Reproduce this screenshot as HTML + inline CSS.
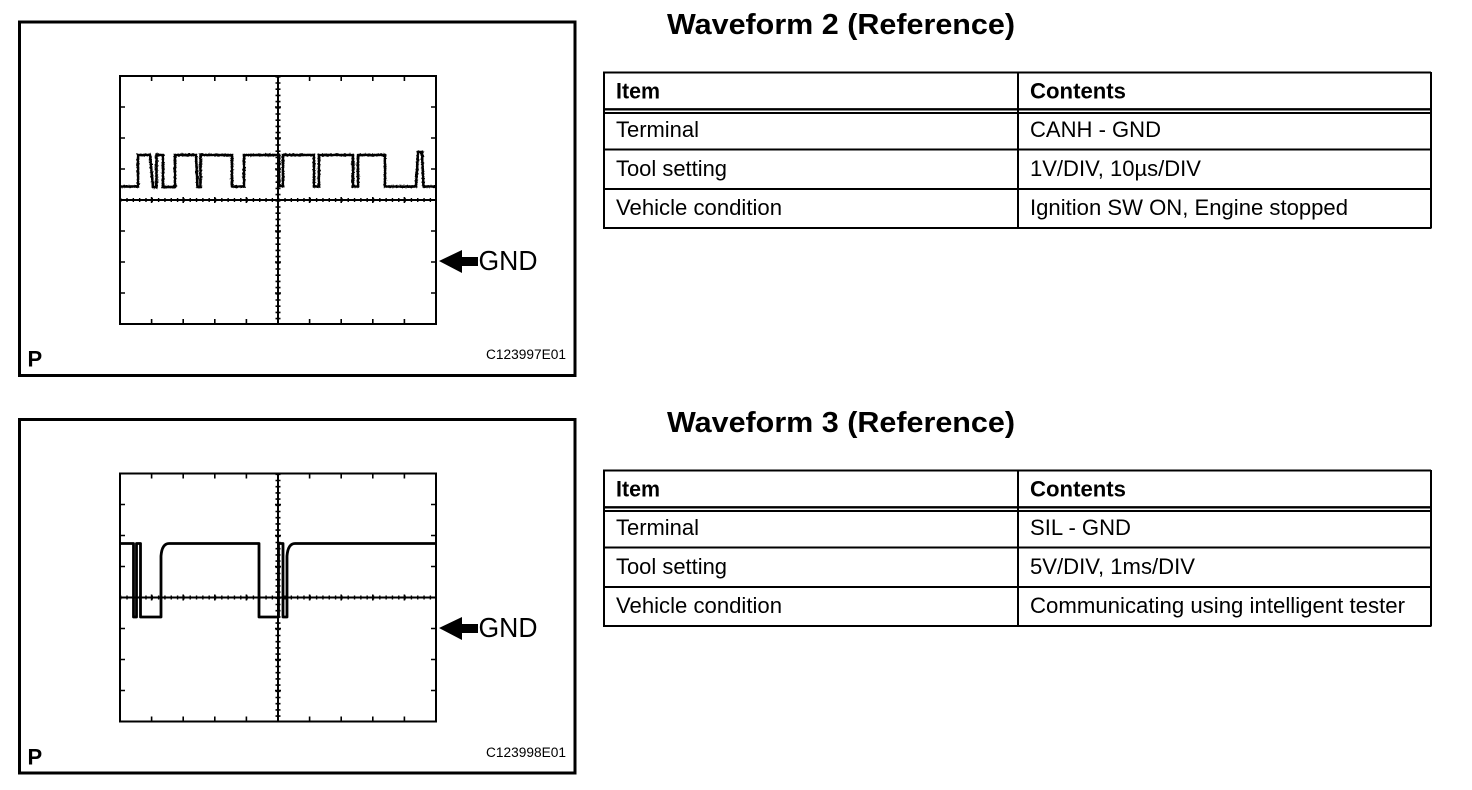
<!DOCTYPE html>
<html>
<head>
<meta charset="utf-8">
<style>
html,body{margin:0;padding:0;background:#fff;width:1472px;height:790px;overflow:hidden}
svg{display:block;position:absolute;left:0;top:0}
text{font-family:"Liberation Sans",Arial,sans-serif;fill:#000}
.t{font-size:22px}
.b{font-size:22px;font-weight:bold}
.h{font-size:29px;font-weight:bold}
.g{font-size:28px}
.c{font-size:13.5px}
.p{font-size:22px;font-weight:bold}
</style>
</head>
<body>
<svg width="1472" height="790" viewBox="0 0 1472 790" xmlns="http://www.w3.org/2000/svg">
<defs>
<filter id="noise" x="-2%" y="-20%" width="104%" height="140%">
<feTurbulence type="fractalNoise" baseFrequency="0.55" numOctaves="2" seed="4"/>
<feDisplacementMap in="SourceGraphic" scale="3" xChannelSelector="R" yChannelSelector="G"/>
</filter>
<g id="frame" fill="none" stroke="#000">
<rect x="19.5" y="22" width="555.5" height="353.5" stroke-width="3"/>
<rect x="120" y="76" width="316" height="248" stroke-width="2"/>
<!-- centre cross -->
<line x1="120" y1="200" x2="436" y2="200" stroke-width="2"/>
<line x1="278" y1="76" x2="278" y2="324" stroke-width="2"/>
<!-- minor ticks -->
<line x1="120" y1="200" x2="436" y2="200" stroke-width="4" stroke-dasharray="1.4 4.92"/>
<line x1="278" y1="76" x2="278" y2="324" stroke-width="5" stroke-dasharray="1.6 4.6"/>
<!-- major ticks -->
<path stroke-width="1.6" d="M151.6 76v5M183.2 76v5M214.8 76v5M246.4 76v5M309.6 76v5M341.2 76v5M372.8 76v5M404.4 76v5
M151.6 324v-5M183.2 324v-5M214.8 324v-5M246.4 324v-5M309.6 324v-5M341.2 324v-5M372.8 324v-5M404.4 324v-5
M120 107h5M120 138h5M120 169h5M120 231h5M120 262h5M120 293h5
M436 107h-5M436 138h-5M436 169h-5M436 231h-5M436 262h-5M436 293h-5
M151.6 197v6M183.2 197v6M214.8 197v6M246.4 197v6M309.6 197v6M341.2 197v6M372.8 197v6M404.4 197v6
M275 107h6M275 138h6M275 169h6M275 231h6M275 262h6M275 293h6"/>
</g>
<g id="arrow">
<path d="M439 261L462 250V257H478V266H462V273Z" fill="#000"/>
</g>
<g id="tbl" fill="none" stroke="#000">
<path stroke-width="2" d="M603 72.5H1431M603 149.5H1431M603 189H1431M603 228H1431M604 72V228.5M1018 72V228.5M1431 72V228.5"/>
<path stroke-width="2.4" d="M603 109.3H1431"/>
<path stroke-width="2" d="M603 113H1431"/>
</g>
<path id="w1" fill="none" stroke="#000" d="M121 186.5H138V155H150L153 187H156.5V155H163V187H175V155H196L197.5 187H200.5V155H232V186.5H244V155H279V186H283V155H314V186.5H319V155H353V186.5H358V155H385V186.5H416L418 152H422L423.5 186.5H435"/>
</defs>

<!-- Panel 1 -->
<use href="#frame"/>
<use href="#w1" style="stroke-width:2.2"/>
<g filter="url(#noise)"><use href="#w1" style="stroke-width:2.6"/></g>
<use href="#arrow"/>
<text class="g" x="478.5" y="270" textLength="59" lengthAdjust="spacingAndGlyphs">GND</text>
<text class="p" x="27.5" y="366.5">P</text>
<text class="c" x="486" y="359" textLength="80" lengthAdjust="spacingAndGlyphs">C123997E01</text>

<!-- Panel 2 -->
<g transform="translate(0,397.5)"><use href="#frame"/></g>
<path fill="none" stroke="#000" stroke-width="2.8" stroke-linejoin="round" d="M120 543.5H133.5V617H136.5V543.5H140.5V617H161V556Q162 543.5 169 543.5H259V617H278.5V543.5H283V617H287V556Q288 543.5 295 543.5H436"/>
<use href="#arrow" y="367"/>
<text class="g" x="478.5" y="637" textLength="59" lengthAdjust="spacingAndGlyphs">GND</text>
<text class="p" x="27.5" y="764.5">P</text>
<text class="c" x="486" y="757" textLength="80" lengthAdjust="spacingAndGlyphs">C123998E01</text>

<!-- Table 1 -->
<text class="h" x="667" y="34" textLength="348" lengthAdjust="spacingAndGlyphs">Waveform 2 (Reference)</text>
<use href="#tbl"/>
<text class="b" x="616" y="98.5" textLength="44" lengthAdjust="spacingAndGlyphs">Item</text>
<text class="b" x="1030" y="98.5" textLength="96" lengthAdjust="spacingAndGlyphs">Contents</text>
<text class="t" x="616" y="137" textLength="83" lengthAdjust="spacingAndGlyphs">Terminal</text>
<text class="t" x="1030" y="137" textLength="131" lengthAdjust="spacingAndGlyphs">CANH - GND</text>
<text class="t" x="616" y="176" textLength="111" lengthAdjust="spacingAndGlyphs">Tool setting</text>
<text class="t" x="1030" y="176" textLength="171" lengthAdjust="spacingAndGlyphs">1V/DIV, 10µs/DIV</text>
<text class="t" x="616" y="215" textLength="166" lengthAdjust="spacingAndGlyphs">Vehicle condition</text>
<text class="t" x="1030" y="215" textLength="318" lengthAdjust="spacingAndGlyphs">Ignition SW ON, Engine stopped</text>

<!-- Table 2 -->
<text class="h" x="667" y="432" textLength="348" lengthAdjust="spacingAndGlyphs">Waveform 3 (Reference)</text>
<use href="#tbl" y="398"/>
<text class="b" x="616" y="496.5" textLength="44" lengthAdjust="spacingAndGlyphs">Item</text>
<text class="b" x="1030" y="496.5" textLength="96" lengthAdjust="spacingAndGlyphs">Contents</text>
<text class="t" x="616" y="535" textLength="83" lengthAdjust="spacingAndGlyphs">Terminal</text>
<text class="t" x="1030" y="535" textLength="101" lengthAdjust="spacingAndGlyphs">SIL - GND</text>
<text class="t" x="616" y="574" textLength="111" lengthAdjust="spacingAndGlyphs">Tool setting</text>
<text class="t" x="1030" y="574" textLength="165" lengthAdjust="spacingAndGlyphs">5V/DIV, 1ms/DIV</text>
<text class="t" x="616" y="613" textLength="166" lengthAdjust="spacingAndGlyphs">Vehicle condition</text>
<text class="t" x="1030" y="613" textLength="375" lengthAdjust="spacingAndGlyphs">Communicating using intelligent tester</text>
</svg>
</body>
</html>
